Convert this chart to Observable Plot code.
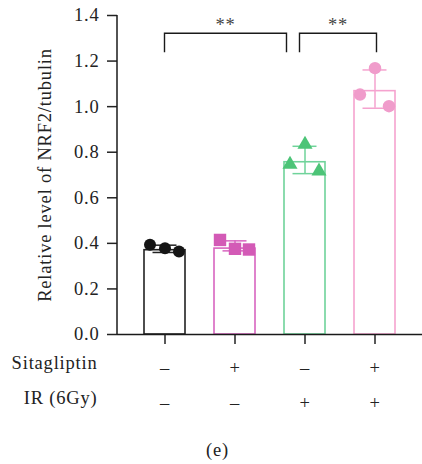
<!DOCTYPE html>
<html>
<head>
<meta charset="utf-8">
<script src="https://cdn.jsdelivr.net/npm/d3@7"></script>
<script src="https://cdn.jsdelivr.net/npm/@observablehq/plot@0.6"></script>
<style>
  html, body { margin: 0; padding: 0; background: #fff; }
</style>
</head>
<body>
<div id="chart"></div>
<script>
// ---- data ----
const groups = ["G1", "G2", "G3", "G4"];
const sitagliptin = ["–", "+", "–", "+"];
const irRow = ["–", "–", "+", "+"];
const barMeans = [0.370, 0.377, 0.756, 1.068];
const errCenter = [0.376, 0.389, 0.766, 1.077];
const errSD = [0.016, 0.022, 0.060, 0.084];
const replicates = [
  [0.394, 0.379, 0.364],
  [0.415, 0.376, 0.373],
  [0.746, 0.834, 0.717],
  [1.053, 1.169, 1.002]
];
const yTicks = [0, 0.2, 0.4, 0.6, 0.8, 1.0, 1.2, 1.4];
const yLabel = "Relative level of NRF2/tubulin";
const rowLabels = ["Sitagliptin", "IR (6Gy)"];
const caption = "(e)";
const brackets = [
  {from: "G1", to: "G3", label: "**"},
  {from: "G3", to: "G4", label: "**"}
];
const bracketTop = 1.32, bracketFoot = 1.237;

// ---- styles ----
const barStroke = ["#222222", "#d865c0", "#6fd39a", "#f5a3cf"];
const dotFill = ["#151515", "#d35ab6", "#4cc477", "#f09ccb"];
const dotSymbol = ["circle", "square", "triangle", "circle"];
const dotR = [6, 7, 5.6, 6.2];
const jitter = [-15, 0, 14];
const bracketEnds = [[0, -18], [-5, 2]];

// ---- tables ----
const bars = groups.map((g, i) => ({group: g, value: barMeans[i], i}));
const errs = groups.map((g, i) => ({group: g, lo: errCenter[i] - errSD[i], hi: errCenter[i] + errSD[i], i}));
const pts = [];
groups.forEach((g, i) => replicates[i].forEach((v, k) => pts.push({group: g, value: v, i, k})));
const rows = groups.map((g, i) => ({group: g, s: sitagliptin[i], r: irRow[i]}));

function yAxisLine(index, scales, values, dims) {
  const x = dims.marginLeft;
  return d3.create("svg:line")
    .attr("x1", x).attr("x2", x)
    .attr("y1", scales.y(1.4)).attr("y2", scales.y(0))
    .attr("stroke", "#1a1a1a").attr("stroke-width", 1.5)
    .node();
}

function bracketMark(index, scales, values, dims) {
  const g = d3.create("svg:g");
  const bw = scales.x.bandwidth();
  brackets.forEach((b, j) => {
    const x1 = scales.x(b.from) + bw / 2 + bracketEnds[j][0];
    const x2 = scales.x(b.to) + bw / 2 + bracketEnds[j][1];
    const yt = scales.y(bracketTop), yf = scales.y(bracketFoot);
    g.append("path")
      .attr("d", `M${x1},${yf}V${yt}H${x2}V${yf}`)
      .attr("fill", "none").attr("stroke", "#1a1a1a").attr("stroke-width", 1.4);
    g.append("text")
      .attr("x", (x1 + x2) / 2).attr("y", yt - 2)
      .attr("text-anchor", "middle")
      .attr("fill", "#444")
      .text(b.label);
  });
  return g.node();
}

const dotMarks = jitter.map((off, k) =>
  Plot.dot(pts.filter((d) => d.k === k), {
    x: "group", y: "value", dx: off,
    symbol: (d) => dotSymbol[d.i], r: (d) => dotR[d.i],
    fill: (d) => dotFill[d.i], stroke: "none"
  })
);

const chart = Plot.plot({
  width: 422,
  height: 464,
  marginLeft: 117,
  marginRight: 0,
  marginTop: 15,
  marginBottom: 130,
  style: {fontFamily: "'Liberation Serif', 'Times New Roman', serif", fontSize: "18.5px", letterSpacing: "0.8px", color: "#222", background: "#fff"},
  x: {domain: groups, paddingInner: 0.42, paddingOuter: 0.367, axis: null},
  y: {domain: [0, 1.4], axis: null},
  r: {type: "identity"},
  symbol: {type: "identity"},
  marks: [
    Plot.barY(bars, {x: "group", y: "value", fill: "#fff", stroke: (d) => barStroke[d.i], strokeWidth: 1.6}),
    Plot.ruleX(errs, {x: "group", y1: "lo", y2: "hi", stroke: (d) => barStroke[d.i], strokeWidth: 1.5}),
    Plot.tickY(errs, {x: "group", y: "lo", stroke: (d) => barStroke[d.i], strokeWidth: 1.5, insetLeft: 8.5, insetRight: 8.5}),
    Plot.tickY(errs, {x: "group", y: "hi", stroke: (d) => barStroke[d.i], strokeWidth: 1.5, insetLeft: 8.5, insetRight: 8.5}),
    ...dotMarks,
    Plot.axisY({ticks: yTicks, tickFormat: d3.format(".1f"), tickSize: 10, tickPadding: 8, strokeWidth: 1.5, label: null, fill: "#222"}),
    Plot.axisX({tickSize: 10, tickFormat: () => "", strokeWidth: 1.5, label: null}),
    Plot.ruleY([0], {stroke: "#1a1a1a", strokeWidth: 1.5}),
    yAxisLine,
    bracketMark,
    Plot.text(rows, {x: "group", y: 0, dy: 34, text: "s", fill: "#222"}),
    Plot.text(rows, {x: "group", y: 0, dy: 69, text: "r", fill: "#222"}),
    Plot.text([rowLabels[0]], {frameAnchor: "bottom-left", dx: -20, dy: 34, textAnchor: "end", text: (d) => d, fill: "#222"}),
    Plot.text([rowLabels[1]], {frameAnchor: "bottom-left", dx: -20, dy: 69, textAnchor: "end", text: (d) => d, fill: "#222"}),
    Plot.text([yLabel], {frameAnchor: "left", dx: -72, rotate: -90, textAnchor: "middle", text: (d) => d, fill: "#222"}),
    Plot.text([caption], {frameAnchor: "bottom-left", dx: 100, dy: 121, textAnchor: "middle", text: (d) => d, fill: "#222"})
  ]
});
document.getElementById("chart").appendChild(chart);
</script>
</body>
</html>
